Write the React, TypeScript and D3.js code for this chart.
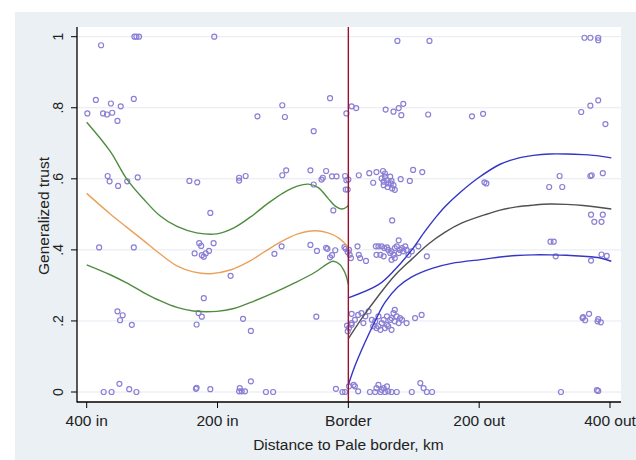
import React from "react";
import * as d3 from "d3";

// ---- data (distance in km: negative = inside the Pale, positive = outside) ----
const xTickValues = [-400, -200, 0, 200, 400];
const xTickLabels = ["400 in", "200 in", "Border", "200 out", "400 out"];
const yTickValues = [0, 0.2, 0.4, 0.6, 0.8, 1];
const yTickLabels = ["0", ".2", ".4", ".6", ".8", "1"];

const pointsInside: [number, number][] = [
  [-378, 0.976], [-327, 1.0], [-324, 1.0], [-320, 1.0], [-205, 1.0],
  [-386, 0.822], [-363, 0.812], [-348, 0.804], [-328, 0.825], [-399, 0.784], [-375, 0.784], [-369, 0.781],
  [-361, 0.786], [-353, 0.763], [-28, 0.827], [-101, 0.807], [-139, 0.776], [-97, 0.774], [-53, 0.734], [-3, 0.784],
  [-368, 0.608], [-365, 0.593], [-352, 0.58], [-338, 0.593], [-322, 0.604], [-243, 0.594], [-231, 0.59], [-211, 0.504],
  [-167, 0.603], [-167, 0.595], [-157, 0.608], [-101, 0.61], [-95, 0.624], [-58, 0.624], [-53, 0.584], [-41, 0.598],
  [-39, 0.603], [-34, 0.622], [-25, 0.607], [-18, 0.607], [-5, 0.608], [-3, 0.596], [-4, 0.57], [-23, 0.511], [-1, 0.57],
  [-381, 0.407], [-328, 0.407], [-235, 0.39], [-228, 0.419], [-225, 0.411], [-224, 0.385], [-221, 0.381], [-218, 0.39],
  [-213, 0.397], [-206, 0.419], [-221, 0.264], [-180, 0.327], [-113, 0.389], [-102, 0.41], [-58, 0.414], [-48, 0.397],
  [-34, 0.406], [-32, 0.403], [-20, 0.399], [-28, 0.379], [-25, 0.385], [-6, 0.408], [-4, 0.403], [-1, 0.394],
  [-353, 0.227], [-345, 0.216], [-349, 0.202], [-331, 0.189], [-229, 0.222], [-224, 0.212], [-232, 0.19], [-161, 0.206],
  [-149, 0.172], [-49, 0.212], [-2, 0.187], [-1, 0.171],
  [-374, 0], [-362, 0], [-350, 0.023], [-335, 0.008], [-324, 0], [-233, 0.009], [-232, 0.012], [-211, 0.008],
  [-166, 0.011], [-163, 0.002], [-158, 0.002], [-167, 0.002], [-149, 0.03], [-126, 0], [-115, 0], [-19, 0.009], [-9, 0], [-5, 0],
];

const pointsOutside: [number, number][] = [
  [75, 0.988], [124, 0.988], [361, 0.997], [370, 0.997], [382, 0.997], [382, 0.99],
  [5, 0.804], [12, 0.799], [57, 0.795], [69, 0.789], [77, 0.799], [84, 0.811], [81, 0.779], [122, 0.781], [189, 0.776],
  [206, 0.783], [356, 0.788], [370, 0.806], [382, 0.821], [393, 0.754],
  [0, 0.598], [16, 0.61], [32, 0.616], [43, 0.619], [53, 0.622], [38, 0.589], [51, 0.601], [54, 0.592], [56, 0.606],
  [59, 0.596], [61, 0.587], [64, 0.606], [66, 0.594], [69, 0.582], [71, 0.569], [54, 0.582], [60, 0.577], [65, 0.587],
  [67, 0.573], [56, 0.615], [80, 0.599], [94, 0.594], [99, 0.625], [113, 0.619], [208, 0.59], [211, 0.587], [323, 0.608],
  [307, 0.577], [327, 0.577], [370, 0.608], [372, 0.61], [389, 0.616],
  [371, 0.499], [389, 0.499], [376, 0.479], [387, 0.479], [67, 0.483],
  [309, 0.423], [314, 0.423], [317, 0.382], [371, 0.37], [387, 0.387], [395, 0.383],
  [14, 0.41], [16, 0.386], [27, 0.369], [18, 0.377], [42, 0.41], [46, 0.41], [51, 0.41], [55, 0.405], [59, 0.407],
  [61, 0.4], [64, 0.391], [66, 0.396], [69, 0.386], [71, 0.405], [74, 0.41], [77, 0.427], [79, 0.4], [82, 0.405],
  [84, 0.396], [87, 0.41], [89, 0.4], [92, 0.386], [97, 0.396], [107, 0.41], [120, 0.382], [1, 0.4], [2, 0.386],
  [4, 0.377], [43, 0.386], [49, 0.386], [54, 0.382], [66, 0.372], [71, 0.377], [77, 0.391],
  [5, 0.22], [10, 0.203], [15, 0.217], [20, 0.222], [23, 0.194], [31, 0.227], [36, 0.203], [38, 0.185], [43, 0.18],
  [46, 0.213], [51, 0.194], [54, 0.203], [56, 0.18], [59, 0.189], [61, 0.185], [64, 0.203], [66, 0.175], [69, 0.222],
  [71, 0.231], [74, 0.213], [77, 0.194], [82, 0.203], [89, 0.194], [102, 0.208], [112, 0.217], [5, 0.189], [1, 0.18],
  [26, 0.213], [41, 0.199], [49, 0.175], [59, 0.213], [79, 0.208], [71, 0.199], [66, 0.208], [46, 0.185], [5, 0.194],
  [358, 0.208], [362, 0.202], [368, 0.22], [359, 0.211], [382, 0.205], [386, 0.196], [381, 0.199],
  [1, 0.016], [10, 0.016], [15, 0.002], [33, 0], [41, 0], [46, 0.02], [51, 0.006], [54, 0.011], [56, 0], [59, 0.016],
  [61, 0.002], [66, 0], [74, 0], [97, 0], [110, 0.025], [115, 0.011], [120, 0], [128, 0], [49, 0], [43, 0.011],
  [8, 0.02], [325, 0], [380, 0.005], [382, 0.003],
];

// fitted curves, inside (left of border)
const insideDist = [-400, -364, -339, -313, -288, -262, -237, -211, -179, -153, -128, -102, -77, -51, -31, -15, -5, 0];
const insideFit = [0.559, 0.501, 0.464, 0.426, 0.389, 0.355, 0.338, 0.333, 0.344, 0.366, 0.395, 0.424, 0.445, 0.454, 0.448, 0.434, 0.417, 0.405];
const insideUpperDist = [-400, -364, -339, -313, -288, -262, -232, -201, -175, -150, -125, -100, -77, -61, -46, -31, -20, -10, -3, 0];
const insideUpper = [0.759, 0.677, 0.6, 0.543, 0.496, 0.466, 0.448, 0.445, 0.462, 0.492, 0.528, 0.56, 0.58, 0.585, 0.575, 0.545, 0.523, 0.515, 0.52, 0.526];
const insideLowerDist = [-400, -364, -339, -313, -288, -262, -237, -201, -175, -144, -112, -82, -51, -31, -23, -13, -5, 0];
const insideLower = [0.358, 0.33, 0.307, 0.28, 0.257, 0.238, 0.228, 0.227, 0.235, 0.256, 0.281, 0.307, 0.337, 0.362, 0.368, 0.359, 0.335, 0.302];

// fitted curves, outside (right of border)
const outsideUpperDist = [0, 46, 71, 97, 117, 133, 148, 173, 199, 232, 257, 283, 308, 333, 359, 385, 402];
const outsideUpper = [0.265, 0.302, 0.344, 0.4, 0.452, 0.49, 0.522, 0.565, 0.603, 0.641, 0.657, 0.666, 0.67, 0.67, 0.668, 0.664, 0.659];
const outsideFitDist = [0, 20, 46, 71, 97, 122, 148, 173, 209, 232, 257, 283, 308, 333, 359, 402];
const outsideFit = [0.15, 0.206, 0.271, 0.328, 0.374, 0.416, 0.45, 0.475, 0.499, 0.512, 0.521, 0.526, 0.529, 0.528, 0.525, 0.515];
const outsideLowerDist = [0, 10, 25, 41, 56, 76, 97, 128, 158, 209, 232, 257, 283, 308, 333, 359, 385, 402];
const outsideLower = [0.02, 0.073, 0.138, 0.2, 0.252, 0.296, 0.324, 0.348, 0.362, 0.374, 0.38, 0.384, 0.386, 0.386, 0.385, 0.382, 0.377, 0.368];

const W = 636;
const H = 460;
const plotL = 77, plotR = 621, plotT = 27, plotB = 402;

export default function App() {
  const x = d3.scaleLinear().domain([-400, 400]).range([86.7, 610]);
  const y = d3.scaleLinear().domain([0, 1]).range([392, 36.7]);
  const line = (xs: number[], ys: number[]) =>
    d3.line<number>().x((_, i) => x(xs[i])).y((v) => y(v)).curve(d3.curveCatmullRom.alpha(0.5))(ys) || "";

  const font = "'Liberation Sans', Arial, sans-serif";
  const pts = [...pointsInside, ...pointsOutside];

  return (
    <svg width={W} height={H} style={{ position: "absolute", left: 0, top: 0, display: "block" }}>
      <rect x={0} y={0} width={W} height={H} fill="#ffffff" />
      <rect x={15} y={12} width={W - 15} height={H - 12} fill="#eaf0f3" />
      <rect x={plotL} y={plotT} width={plotR - plotL} height={plotB - plotT} fill="#ffffff" />
      {yTickValues.map((v) => (
        <line key={"g" + v} x1={plotL} x2={plotR} y1={y(v)} y2={y(v)} stroke="#e4eaf0" strokeWidth={1} />
      ))}
      {pts.map(([d, v], i) => (
        <circle key={i} cx={x(d)} cy={y(v)} r={2.5} fill="none" stroke="#8a7fd4" strokeWidth={1.2} />
      ))}
      <path d={line(insideUpperDist, insideUpper)} fill="none" stroke="#4f8c40" strokeWidth={1.4} />
      <path d={line(insideLowerDist, insideLower)} fill="none" stroke="#4f8c40" strokeWidth={1.4} />
      <path d={line(insideDist, insideFit)} fill="none" stroke="#eba05c" strokeWidth={1.4} />
      <path d={line(outsideUpperDist, outsideUpper)} fill="none" stroke="#3535c8" strokeWidth={1.4} />
      <path d={line(outsideLowerDist, outsideLower)} fill="none" stroke="#3535c8" strokeWidth={1.4} />
      <path d={line(outsideFitDist, outsideFit)} fill="none" stroke="#505050" strokeWidth={1.4} />
      <line x1={x(0)} x2={x(0)} y1={plotT} y2={plotB} stroke="#9c1030" strokeWidth={1.4} />
      {/* axes */}
      <line x1={plotL} x2={plotL} y1={plotT} y2={plotB + 0.6} stroke="#000" strokeWidth={1.3} />
      <line x1={plotL} x2={plotR} y1={plotB} y2={plotB} stroke="#000" strokeWidth={1.3} />
      {yTickValues.map((v, i) => (
        <g key={"yt" + v}>
          <line x1={plotL - 6} x2={plotL} y1={y(v)} y2={y(v)} stroke="#000" strokeWidth={1} />
          <text
            transform={`translate(${63},${y(v)}) rotate(-90)`}
            textAnchor="middle"
            fontFamily={font}
            fontSize={14}
            fill="#222"
          >
            {yTickLabels[i]}
          </text>
        </g>
      ))}
      {xTickValues.map((d, i) => (
        <g key={"xt" + d}>
          <line x1={x(d)} x2={x(d)} y1={plotB} y2={plotB + 6} stroke="#000" strokeWidth={1} />
          <text x={x(d)} y={426} textAnchor="middle" fontFamily={font} fontSize={15.5} fill="#222">
            {xTickLabels[i]}
          </text>
        </g>
      ))}
      <text x={x(0)} y={450} textAnchor="middle" fontFamily={font} fontSize={15.5} fill="#222">
        Distance to Pale border, km
      </text>
      <text
        transform={`translate(${49},${216}) rotate(-90)`}
        textAnchor="middle"
        fontFamily={font}
        fontSize={15.5}
        fill="#222"
      >
        Generalized trust
      </text>
    </svg>
  );
}
